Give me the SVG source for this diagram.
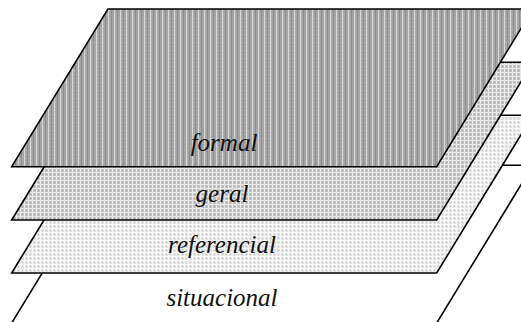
<svg xmlns="http://www.w3.org/2000/svg" width="521" height="322" viewBox="0 0 521 322">
  <style>
    .layer { stroke: #000; stroke-width: 1.6; stroke-linejoin: miter; }
    .lbl { font-family: "Liberation Serif", "DejaVu Serif", serif; font-style: italic; font-size: 25px; fill: #111; text-anchor: middle; }
  </style>
  <defs>
    <pattern id="pFormal" width="6" height="4" patternUnits="userSpaceOnUse">
      <rect width="6" height="4" fill="#a6a6a6"/>
      <rect x="0" y="0" width="1" height="4" fill="#d6d6d6"/>
      <rect x="3" y="0" width="1" height="4" fill="#8e8e8e"/>
      <rect x="1" y="2" width="1" height="1" fill="#bdbdbd"/>
    </pattern>
    <pattern id="pGeral" width="4" height="4" patternUnits="userSpaceOnUse">
      <rect width="4" height="4" fill="#c4c4c4"/>
      <rect x="0" y="0" width="4" height="1" fill="#e8e8e8"/>
      <rect x="0" y="0" width="1" height="4" fill="#e8e8e8"/>
      <rect x="2" y="2" width="1" height="1" fill="#a8a8a8"/>
    </pattern>
    <pattern id="pRef" width="4" height="4" patternUnits="userSpaceOnUse">
      <rect width="4" height="4" fill="#e4e4e4"/>
      <rect x="0" y="0" width="4" height="1" fill="#f6f6f6"/>
      <rect x="0" y="0" width="1" height="4" fill="#f6f6f6"/>
      <rect x="2" y="2" width="1" height="1" fill="#c4c4c4"/>
    </pattern>
  </defs>

  <g id="situacional">
    <polygon class="layer" points="11.7,323 436.7,323 532.9,165.3 107.9,165.3" fill="#ffffff"/>
    <text class="lbl" x="222" y="306">situacional</text>
  </g>
  <g id="referencial">
    <polygon class="layer" points="11.7,273 436.7,273 532.9,115.3 107.9,115.3" fill="url(#pRef)"/>
    <text class="lbl" x="222" y="253">referencial</text>
  </g>
  <g id="geral">
    <polygon class="layer" points="11.7,220 436.7,220 532.9,62.3 107.9,62.3" fill="url(#pGeral)"/>
    <text class="lbl" x="222" y="202">geral</text>
  </g>
  <g id="formal">
    <polygon class="layer" points="11.7,166.7 436.7,166.7 532.9,9 107.9,9" fill="url(#pFormal)"/>
    <text class="lbl" x="224" y="151">formal</text>
  </g>
</svg>
